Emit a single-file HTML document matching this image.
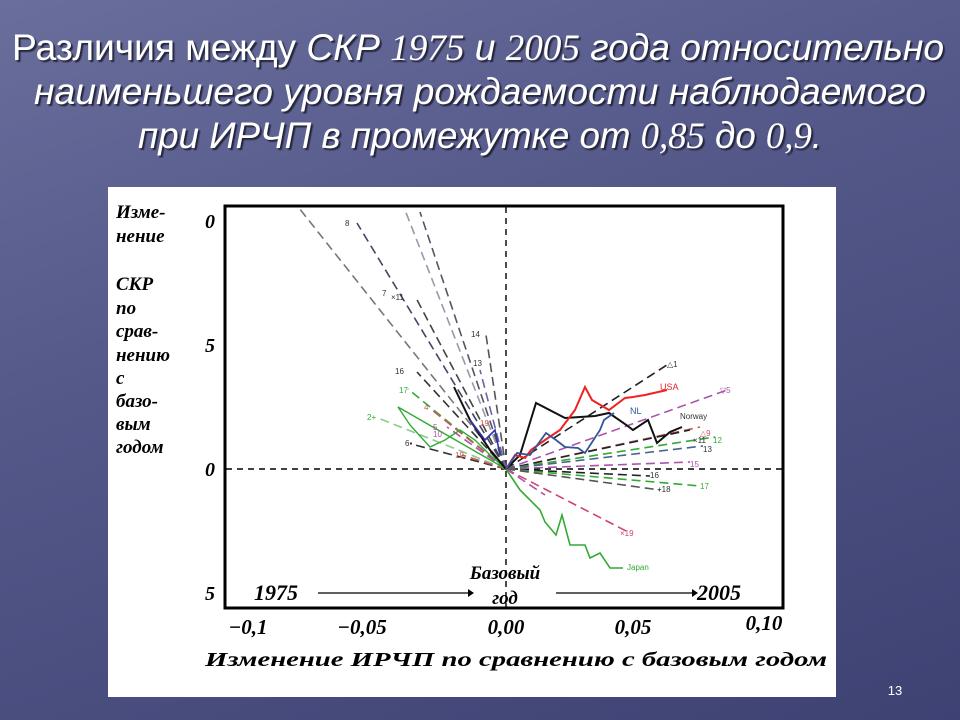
<!DOCTYPE html>
<html><head><meta charset="utf-8"><style>
html,body{margin:0;padding:0;width:960px;height:720px;overflow:hidden}
body{background:linear-gradient(160deg,#6a6e9c 0%,#545889 40%,#3e4273 100%);font-family:"Liberation Sans",sans-serif}
</style></head><body>
<svg width="960" height="720" viewBox="0 0 960 720" xmlns="http://www.w3.org/2000/svg" style="position:absolute;left:0;top:0">
<defs><filter id="sh"><feDropShadow dx="2" dy="2" stdDeviation="0.6" flood-color="#1a1a30" flood-opacity="0.9"/></filter></defs>
<g font-family="Liberation Sans, sans-serif" font-size="37" fill="#fff" filter="url(#sh)" font-style="italic">
<text x="12" y="60" textLength="932" lengthAdjust="spacingAndGlyphs"><tspan font-style="normal">Различия между </tspan>СКР <tspan font-family="Liberation Serif">1975</tspan> и <tspan font-family="Liberation Serif">2005</tspan> года относительно</text>
<text x="34" y="104" textLength="892" lengthAdjust="spacingAndGlyphs">наименьшего уровня рождаемости наблюдаемого</text>
<text x="138" y="148" textLength="684" lengthAdjust="spacingAndGlyphs">при ИРЧП в промежутке от <tspan font-family="Liberation Serif">0,85</tspan> до <tspan font-family="Liberation Serif">0,9</tspan>.</text>
</g>
<text x="895" y="695" font-size="13" fill="#fff" text-anchor="middle">13</text>
<rect x="108" y="187" width="728" height="510" fill="#fff"/>
<rect x="225" y="206" width="558" height="402" fill="none" stroke="#000" stroke-width="3"/>
<g font-family="Liberation Serif, serif" font-style="italic" font-weight="bold" font-size="19" fill="#000">
<text x="116" y="218">Изме-</text><text x="116" y="242">нение</text>
<text x="116" y="290">СКР</text><text x="116" y="314">по</text><text x="116" y="337">срав-</text><text x="116" y="361">нению</text><text x="116" y="384">с</text><text x="116" y="407">базо-</text><text x="116" y="430">вым</text><text x="116" y="453">годом</text>
<text x="205" y="228" font-size="20">0</text><text x="205" y="352" font-size="20">5</text><text x="205" y="476" font-size="20">0</text><text x="205" y="600" font-size="20">5</text>
<text x="248" y="634" font-size="21" text-anchor="middle">−0,1</text>
<text x="362" y="634" font-size="21" text-anchor="middle">−0,05</text>
<text x="506" y="634" font-size="21" text-anchor="middle">0,00</text>
<text x="633" y="634" font-size="21" text-anchor="middle">0,05</text>
<text x="764" y="630" font-size="21" text-anchor="middle">0,10</text>
<text x="516" y="666" font-size="20" text-anchor="middle" textLength="622" lengthAdjust="spacingAndGlyphs">Изменение ИРЧП по сравнению с базовым годом</text>
<text x="254" y="600" font-size="22">1975</text><text x="697" y="600" font-size="22">2005</text>
<text x="505" y="579" font-size="19" text-anchor="middle">Базовый</text><text x="505" y="604" font-size="19" text-anchor="middle">год</text>
</g>
<g stroke="#000" stroke-width="1.2"><line x1="318" y1="593" x2="468" y2="593"/><line x1="556" y1="593" x2="692" y2="593"/></g>
<g fill="#000"><path d="M468 589 L474 593 L468 597Z"/><path d="M692 589 L698 593 L692 597Z"/></g>
<g stroke="#000" stroke-width="1.4" stroke-dasharray="6,5"><line x1="506" y1="207" x2="506" y2="607"/><line x1="226" y1="469" x2="782" y2="469"/></g>
<g fill="none" stroke-width="1.6">
<g stroke-dasharray="9,5">
<path d="M506 469 L299 208" stroke="#777"/>
<path d="M506 469 L357 223" stroke="#446"/>
<path d="M506 469 L405 210" stroke="#99a"/>
<path d="M506 469 L420 212" stroke="#556"/>
<path d="M506 469 L415 296" stroke="#444"/>
<path d="M506 469 L486 335" stroke="#555"/>
<path d="M506 469 L480 370" stroke="#66a"/>
<path d="M506 469 L417 372" stroke="#333"/>
<path d="M506 469 L408 389" stroke="#3a3"/>
<path d="M506 469 L432 410" stroke="#c55"/>
<path d="M506 469 L447 427" stroke="#a5a"/>
<path d="M506 469 L378 418" stroke="#8c8"/>
<path d="M506 469 L415 445" stroke="#333"/>
<path d="M506 469 L462 455" stroke="#c55"/>
<path d="M506 469 L670 363" stroke="#222"/>
<path d="M506 469 L730 389" stroke="#a5a"/>
<path d="M506 469 L700 427" stroke="#c55"/>
<path d="M506 469 L690 430" stroke="#222"/>
<path d="M506 469 L715 437" stroke="#3a3"/>
<path d="M506 469 L703 446" stroke="#468"/>
<path d="M506 469 L690 462" stroke="#a5a"/>
<path d="M506 469 L650 476" stroke="#222"/>
<path d="M506 469 L700 486" stroke="#3a3"/>
<path d="M506 469 L660 490" stroke="#555"/>
<path d="M506 469 L630 533" stroke="#c47"/>
<path d="M506 469 L545 495" stroke="#a5a"/>
</g>
<path d="M506 469 L398 407 L410 425 L430 447 L445 440 L460 430 L475 440 L490 455 Z" stroke="#3a3" stroke-width="1.4" fill="none"/>
<path d="M506 469 L520 490 L540 510 L545 522 L556 535 L562 515 L570 545 L585 545 L590 558 L600 553 L610 568 L623 568" stroke="#3a3"/>
<path d="M454 387 L470 420 L490 450 L506 469" stroke="#111" stroke-width="2"/>
<path d="M506 469 L520 455 L536 403 L565 418 L595 416 L609 413 L625 424 L633 430 L648 420 L657 443 L670 432 L682 427" stroke="#111" stroke-width="2"/>
<path d="M506 469 L515 455 L525 458 L531 450 L545 440 L560 430 L575 410 L585 387 L592 400 L609 410 L625 398 L633 397 L645 395 L667 390" stroke="#e22" stroke-width="2"/>
<path d="M506 469 L517 453 L530 455 L546 433 L556 440 L565 447 L578 448 L585 453 L600 430 L604 420 L614 413" stroke="#335599" stroke-width="1.8"/>
<path d="M470 420 L485 440 L495 430 L500 455" stroke="#33a" stroke-width="1.6"/>
</g>
<g font-family="Liberation Sans, sans-serif" font-size="8" fill="#333">
<text x="667" y="367">△1</text><text x="660" y="390" fill="#e22" font-size="9">USA</text><text x="720" y="393" fill="#a5a">▽5</text>
<text x="680" y="419">Norway</text><text x="630" y="414" fill="#335599" font-size="9">NL</text>
<text x="700" y="436" fill="#c55">△9</text><text x="693" y="443">×11</text><text x="713" y="443" fill="#3a3">12</text><text x="703" y="452">13</text>
<text x="690" y="467" fill="#a5a">15</text><text x="650" y="478">16</text><text x="700" y="489" fill="#3a3">17</text><text x="657" y="492">+18</text>
<text x="620" y="536" fill="#c47">×19</text><text x="627" y="570" fill="#3a3">Japan</text>
<text x="345" y="226">8</text><text x="382" y="296">7</text><text x="391" y="300">×11</text><text x="471" y="337">14</text><text x="473" y="366">13</text>
<text x="395" y="374">16</text><text x="399" y="393" fill="#3a3">17</text><text x="424" y="410" fill="#c55">4</text><text x="367" y="420" fill="#3a3">2+</text>
<text x="433" y="430" fill="#a5a">5</text><text x="433" y="437" fill="#a5a">10</text><text x="405" y="446">6▪</text><text x="455" y="458" fill="#c55">19</text><text x="480" y="426" fill="#c55">19</text>
</g>
</svg>
</body></html>
